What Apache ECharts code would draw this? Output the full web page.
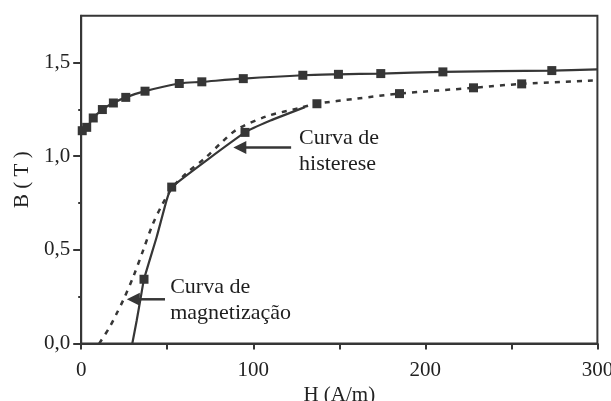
<!DOCTYPE html>
<html><head><meta charset="utf-8">
<script src="https://cdn.jsdelivr.net/npm/echarts@6/dist/echarts.min.js"></script>
<style>html,body{margin:0;padding:0;background:#fff}#c{width:611px;height:401px}</style>
</head><body><div id="c"></div>
<script>
// Upper (saturation) branch – solid line with squares
const upperH = [0.6, 3.2, 7.0, 12.3, 18.7, 25.9, 37.1, 57.0, 70.1, 94.2, 128.8, 149.5, 174.1, 210.2, 273.5, 300];
const upperB = [1.136, 1.154, 1.204, 1.249, 1.284, 1.314, 1.347, 1.388, 1.397, 1.414, 1.432, 1.437, 1.441, 1.450, 1.457, 1.463];
const upperMarkH = [0.6, 3.2, 7.0, 12.3, 18.7, 25.9, 37.1, 57.0, 70.1, 94.2, 128.8, 149.5, 174.1, 210.2, 273.5];
const upperMarkB = [1.136, 1.154, 1.204, 1.249, 1.284, 1.314, 1.347, 1.388, 1.397, 1.414, 1.432, 1.437, 1.441, 1.450, 1.457];

// Hysteresis lower branch – solid
const hystH = [29.7, 32.2, 34.5, 36.5, 43.9, 49.7, 52.6, 95.2, 110.0, 130.0];
const hystB = [0.0, 0.12, 0.24, 0.343, 0.57, 0.767, 0.835, 1.127, 1.19, 1.262];
const hystMarkH = [36.5, 52.6, 95.2];
const hystMarkB = [0.343, 0.835, 1.127];

// Magnetization curve – dashed
const magH = [10.5, 16.7, 20.6, 24.5, 30.3, 36.1, 41.5, 47.0, 53.5, 61.3, 72.0, 81.0, 90.4, 107.8, 127.2, 137.0, 160.0, 185.0, 228.0, 256.0, 300.0];
const magB = [0.0, 0.09, 0.16, 0.233, 0.357, 0.5, 0.635, 0.74, 0.838, 0.91, 0.99, 1.068, 1.142, 1.213, 1.258, 1.28, 1.307, 1.334, 1.365, 1.386, 1.405];
const magMarkH = [137.0, 185.0, 228.0, 256.0];
const magMarkB = [1.28, 1.334, 1.365, 1.386];

// Axis ticks
const xTicks = [0, 50, 100, 150, 200, 250, 300];
const xLabels = [0, 100, 200, 300];
const yMajor = [0, 0.5, 1.0, 1.5];
const yMinor = [0.25, 0.75, 1.25];

// Annotations (data coords)
const notes = [
  { text: 'Curva de\nhisterese', H: 126.6, B: 1.026 },
  { text: 'Curva de\nmagnetização', H: 51.7, B: 0.23 }
];
const arrows = [
  { from: [122.0, 1.047], to: [88.4, 1.047] },
  { from: [48.7, 0.236], to: [26.5, 0.236] }
];

const C = '#363636';
const FONT = 'Liberation Serif';
const zip = (a, b) => a.map((v, i) => [v, b[i]]);

const chart = echarts.init(document.getElementById('c'), null, { renderer: 'canvas' });
const tickLabel = { color: '#222', fontFamily: FONT, fontSize: 21 };

chart.setOption({
  animation: false,
  grid: { left: 81.2, right: 13.6, top: 15.7, bottom: 57.5, show: true, borderColor: C, borderWidth: 2,
          containLabel: false, outerBoundsMode: 'none' },
  xAxis: {
    type: 'value', min: 0, max: 300, interval: 50,
    name: 'H (A/m)', nameLocation: 'middle', nameGap: 37,
    nameTextStyle: { color: '#222', fontFamily: FONT, fontSize: 21 },
    axisLine: { show: true, lineStyle: { color: C, width: 2 } },
    axisTick: { show: true, length: 6, lineStyle: { color: C, width: 2 }, customValues: xTicks },
    axisLabel: Object.assign({ margin: 16, customValues: xLabels }, tickLabel),
    splitLine: { show: false }
  },
  yAxis: [
    {
      type: 'value', min: 0, max: 1.75, position: 'left',
      name: 'B ( T )', nameLocation: 'middle', nameGap: 44,
      nameTextStyle: { color: '#222', fontFamily: FONT, fontSize: 21 },
      axisLine: { show: true, lineStyle: { color: C, width: 2 } },
      axisTick: { show: true, length: 8, lineStyle: { color: C, width: 2 }, customValues: yMajor },
      axisLabel: Object.assign({ margin: 11, customValues: yMajor, formatter: v => v.toFixed(1).replace('.', ',') }, tickLabel),
      splitLine: { show: false }
    },
    {
      type: 'value', min: 0, max: 1.75, position: 'left',
      axisLine: { show: false },
      axisTick: { show: true, length: 3, lineStyle: { color: C, width: 2 }, customValues: yMinor },
      axisLabel: { show: false },
      splitLine: { show: false }
    }
  ],
  series: [
    { type: 'line', data: zip(upperH, upperB), smooth: 0.3, showSymbol: false, lineStyle: { color: C, width: 2.2 }, z: 3 },
    { type: 'line', data: zip(hystH, hystB), smooth: 0.15, showSymbol: false, lineStyle: { color: C, width: 2.2 }, z: 3 },
    { type: 'line', data: zip(magH, magB), smooth: 0.3, showSymbol: false, lineStyle: { color: C, width: 2.5, type: [5, 6] }, z: 2 },
    { type: 'scatter', data: zip(upperMarkH, upperMarkB).concat(zip(hystMarkH, hystMarkB), zip(magMarkH, magMarkB)),
      symbol: 'rect', symbolSize: 9, itemStyle: { color: C, opacity: 1 }, z: 5 }
  ]
});

const px = p => chart.convertToPixel({ xAxisIndex: 0, yAxisIndex: 0 }, p);
const graphics = [];
notes.forEach(n => {
  const p = px([n.H, n.B]);
  graphics.push({ type: 'text', x: p[0], y: p[1], z: 10,
    style: { text: n.text, fill: '#1e1e1e', font: '22px "Liberation Serif"', lineHeight: 26, verticalAlign: 'middle', align: 'left' } });
});
arrows.forEach(a => {
  const s = px(a.from), t = px(a.to);
  const L = 13, W = 6.5;
  graphics.push({ type: 'line', z: 10, shape: { x1: s[0], y1: s[1], x2: t[0] + L - 1, y2: t[1] }, style: { stroke: C, lineWidth: 2.5 } });
  graphics.push({ type: 'polygon', z: 10, shape: { points: [[t[0], t[1]], [t[0] + L, t[1] - W], [t[0] + L, t[1] + W]] }, style: { fill: C } });
});
chart.setOption({ graphic: graphics });
</script>
</body></html>
